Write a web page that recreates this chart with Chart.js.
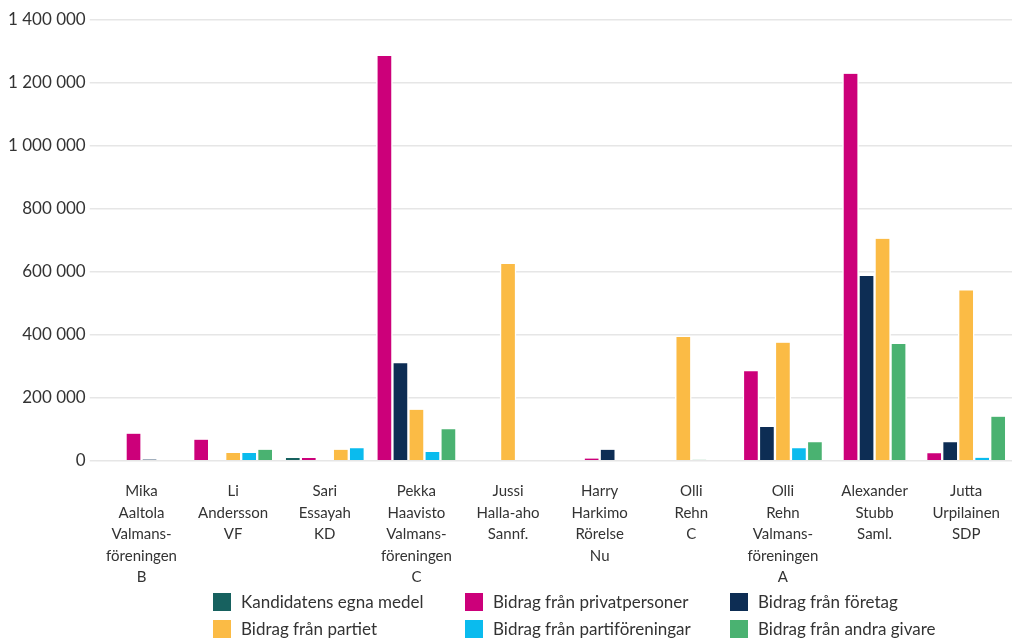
<!DOCTYPE html>
<html lang="sv">
<head>
<meta charset="UTF-8">
<title>Valfinansiering</title>
<script src="https://cdn.jsdelivr.net/npm/chart.js"></script>
<style>
  html, body { margin: 0; overflow: hidden; background: #fff; font-family: Lato, "Open Sans", sans-serif; }
  #wrap { position: absolute; left: 0; top: 0; width: 1012px; height: 591px; }
  #legend { position: absolute; left: 0; top: 587px; width: 1012px; height: 52px; }
  #legend .item { position: absolute; display: flex; align-items: center; font-size: 17px; color: #333; white-space: nowrap; }
  #legend .box { width: 18px; height: 18px; margin-right: 10px; }
</style>
</head>
<body>
<div id="wrap"><canvas id="chart"></canvas></div>
<div id="legend"></div>
<script>
// kandidater (x-axel)
const candidates = [
  ["Mika", "Aaltola", "Valmans-", "föreningen", "B"],
  ["Li", "Andersson", "VF"],
  ["Sari", "Essayah", "KD"],
  ["Pekka", "Haavisto", "Valmans-", "föreningen", "C"],
  ["Jussi", "Halla-aho", "Sannf."],
  ["Harry", "Harkimo", "Rörelse", "Nu"],
  ["Olli", "Rehn", "C"],
  ["Olli", "Rehn", "Valmans-", "föreningen", "A"],
  ["Alexander", "Stubb", "Saml."],
  ["Jutta", "Urpilainen", "SDP"]
];

// bidrag i euro, null = ingen post
const egnaMedel      = [null, null, 9000, null, null, null, null, null, null, null];
const privatpersoner = [86000, 67000, 9000, 1286000, null, 7000, null, 284000, 1229000, 24000];
const foretag        = [4000, 0, 0, 310000, null, 35000, null, 107000, 587000, 59000];
const partiet        = [null, 25000, 35000, 162000, 625000, null, 393000, 375000, 705000, 541000];
const partiforeningar = [null, 25000, 40000, 28000, null, null, null, 40000, null, 9500];
const andraGivare    = [null, 35000, null, 100000, null, null, 3000, 59000, 371000, 140000];

const yTicks = [0, 200000, 400000, 600000, 800000, 1000000, 1200000, 1400000];

const series = [
  { label: "Kandidatens egna medel", data: egnaMedel, color: "#17615f" },
  { label: "Bidrag från privatpersoner", data: privatpersoner, color: "#cc007a" },
  { label: "Bidrag från företag", data: foretag, color: "#0d2d54" },
  { label: "Bidrag från partiet", data: partiet, color: "#fbbb45" },
  { label: "Bidrag från partiföreningar", data: partiforeningar, color: "#0abbee" },
  { label: "Bidrag från andra givare", data: andraGivare, color: "#4ab271" }
];

function fmt(v) {
  return String(v).replace(/\B(?=(\d{3})+(?!\d))/g, " ");
}

const chart = new Chart(document.getElementById("chart"), {
  type: "bar",
  data: {
    labels: candidates,
    datasets: series.map(s => ({
      label: s.label,
      data: s.data,
      backgroundColor: s.color,
      borderColor: "#ffffff",
      borderWidth: { left: 1.5, right: 1.5, top: 0, bottom: 0 },
      barThickness: 16,
      skipNull: true
    }))
  },
  options: {
    responsive: true,
    maintainAspectRatio: false,
    animation: false,
    layout: { padding: { top: 20, right: 0, left: 4, bottom: 0 } },
    plugins: {
      legend: { display: false },
      tooltip: { enabled: false }
    },
    scales: {
      x: {
        grid: { display: false, drawTicks: true, tickLength: 17 },
        border: { display: false },
        ticks: {
          autoSkip: false,
          maxRotation: 0,
          padding: 3,
          color: "#333",
          font: { family: "Lato", size: 15, lineHeight: 1.43 }
        }
      },
      y: {
        min: 0,
        max: 1400000,
        afterBuildTicks: axis => { axis.ticks = yTicks.map(v => ({ value: v })); },
        grid: { color: "#e6e6e6", lineWidth: 1.5, tickLength: 6 },
        border: { display: false },
        ticks: {
          padding: 4,
          color: "#333",
          font: { family: "Lato", size: 17 },
          callback: v => fmt(v)
        }
      }
    }
  }
});

// legend i tre kolumner
const legendCols = [213, 465, 730];
const legendRows = [4, 31];
const legend = document.getElementById("legend");
series.forEach((s, i) => {
  const item = document.createElement("div");
  item.className = "item";
  item.style.left = legendCols[i % 3] + "px";
  item.style.top = legendRows[Math.floor(i / 3)] + "px";
  item.innerHTML = '<span class="box" style="background:' + s.color + '"></span><span>' + s.label + '</span>';
  legend.appendChild(item);
});
</script>
</body>
</html>
